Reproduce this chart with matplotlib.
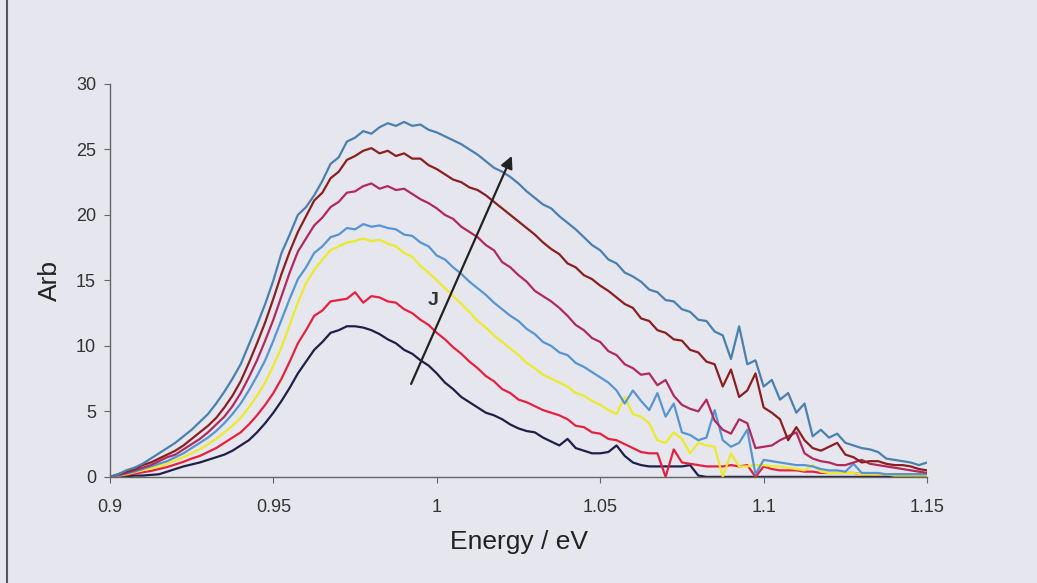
import numpy as np
import matplotlib
matplotlib.use("Agg")
import matplotlib.pyplot as plt
from matplotlib.lines import Line2D

plt.rcParams['font.family'] = ['Liberation Sans', 'DejaVu Sans']

# photon energy grid (eV), 0.9 .. 1.15 in steps of 0.0025
energy = np.linspace(0.9, 1.15, 101)

# spectra, lowest current to highest
navy = [0.0, 0.0, 0.05, 0.1, 0.1, 0.15, 0.2, 0.4, 0.6, 0.8,
        0.95, 1.1, 1.3, 1.5, 1.7, 2.0, 2.4, 2.8, 3.4, 4.1,
        4.9, 5.8, 6.8, 7.9, 8.8, 9.7, 10.3, 11.0, 11.2, 11.5,
        11.5, 11.4, 11.2, 10.9, 10.5, 10.2, 9.7, 9.4, 8.9, 8.5,
        7.9, 7.2, 6.7, 6.1, 5.7, 5.3, 4.9, 4.7, 4.4, 4.0,
        3.7, 3.5, 3.4, 3.0, 2.7, 2.4, 2.9, 2.2, 2.0, 1.8,
        1.8, 1.9, 2.4, 1.6, 1.1, 0.9, 0.8, 0.8, 0.8, 0.8,
        0.8, 0.9, 0.1, 0.0, 0.0, 0.0, 0.0, 0.0, 0.0, 0.0,
        0.0, 0.0, 0.0, 0.0, 0.0, 0.0, 0.0, 0.0, 0.0, 0.0,
        0.0, 0.0, 0.0, 0.0, 0.0, 0.0, 0.0, 0.0, 0.0, 0.0, 0.0]

red = [0.0, 0.05, 0.15, 0.25, 0.35, 0.45, 0.6, 0.75, 0.95, 1.15,
       1.4, 1.6, 1.9, 2.2, 2.6, 3.0, 3.4, 4.0, 4.7, 5.5,
       6.4, 7.5, 8.8, 10.2, 11.2, 12.3, 12.7, 13.4, 13.5, 13.6,
       14.1, 13.3, 13.8, 13.7, 13.4, 13.3, 12.8, 12.5, 12.0, 11.6,
       11.0, 10.5, 9.9, 9.4, 8.8, 8.3, 7.7, 7.3, 6.7, 6.4,
       5.9, 5.7, 5.4, 5.1, 4.9, 4.7, 4.4, 3.9, 3.8, 3.4,
       3.3, 2.9, 2.8, 2.5, 2.2, 1.9, 1.8, 1.8, 0.0, 2.1,
       1.1, 1.0, 0.9, 0.8, 0.8, 0.8, 0.9, 0.8, 0.9, 0.0,
       0.8, 0.6, 0.5, 0.5, 0.5, 0.4, 0.4, 0.3, 0.3, 0.3,
       0.3, 0.3, 0.2, 0.2, 0.2, 0.2, 0.2, 0.2, 0.2, 0.2, 0.1]

yellow = [0.0, 0.1, 0.2, 0.35, 0.5, 0.65, 0.8, 1.0, 1.25, 1.5,
          1.8, 2.1, 2.5, 2.9, 3.4, 3.9, 4.5, 5.3, 6.2, 7.2,
          8.5, 9.9, 11.6, 13.3, 14.8, 15.8, 16.6, 17.3, 17.6, 17.9,
          18.0, 18.2, 18.0, 18.1, 17.8, 17.6, 17.1, 16.8, 16.1, 15.6,
          15.0, 14.4, 13.8, 13.2, 12.6, 11.9, 11.4, 10.8, 10.3, 9.8,
          9.3, 8.7, 8.3, 7.8, 7.5, 7.2, 6.9, 6.4, 6.2, 5.8,
          5.5, 5.1, 4.8, 6.1, 4.8, 4.6, 4.1, 2.8, 2.6, 3.4,
          2.9, 1.8, 2.6, 2.4, 2.3, 0.0, 1.8, 0.8, 0.8, 0.9,
          0.9, 0.8, 0.8, 0.7, 0.6, 0.5, 0.9, 0.4, 0.3, 0.3,
          0.3, 0.3, 0.2, 0.2, 0.2, 0.2, 0.1, 0.1, 0.1, 0.1, 0.1]

lightblue = [0.0, 0.1, 0.25, 0.4, 0.6, 0.8, 1.0, 1.2, 1.5, 1.8,
             2.2, 2.6, 3.0, 3.5, 4.1, 4.8, 5.6, 6.6, 7.7, 8.9,
             10.4, 12.0, 13.6, 15.1, 16.0, 17.1, 17.6, 18.3, 18.5, 19.0,
             18.9, 19.3, 19.1, 19.2, 19.0, 18.9, 18.5, 18.4, 17.9, 17.6,
             16.9, 16.6, 16.0, 15.5, 14.9, 14.4, 13.9, 13.3, 12.8, 12.3,
             11.9, 11.3, 10.9, 10.3, 10.0, 9.5, 9.3, 8.7, 8.4, 8.0,
             7.6, 7.2, 6.6, 5.6, 6.6, 5.8, 5.1, 6.4, 4.6, 5.6,
             3.4, 3.2, 2.8, 3.0, 5.1, 2.8, 2.3, 2.6, 3.6, 0.2,
             1.3, 1.2, 1.1, 1.0, 0.9, 0.9, 0.8, 0.6, 0.5, 0.5,
             0.4, 1.0, 0.3, 0.3, 0.3, 0.2, 0.2, 0.2, 0.2, 0.2, 0.2]

magenta = [0.0, 0.15, 0.3, 0.5, 0.7, 0.9, 1.2, 1.5, 1.7, 2.1,
           2.5, 2.9, 3.4, 4.0, 4.6, 5.4, 6.4, 7.6, 8.9, 10.4,
           12.0, 13.8, 15.6, 17.2, 18.2, 19.2, 19.8, 20.6, 21.0, 21.7,
           21.8, 22.2, 22.4, 22.0, 22.2, 21.9, 22.0, 21.6, 21.2, 20.9,
           20.5, 20.0, 19.7, 19.1, 18.7, 18.3, 17.7, 17.3, 16.4, 16.0,
           15.4, 14.9, 14.2, 13.8, 13.4, 12.9, 12.3, 11.6, 11.2, 10.6,
           10.3, 9.6, 9.3, 8.6, 8.3, 7.8, 7.9, 7.0, 7.4, 6.2,
           5.5, 5.2, 5.0, 5.9, 4.3, 3.6, 3.3, 4.4, 4.1, 2.2,
           2.3, 2.4, 2.8, 3.1, 3.4, 1.8, 1.4, 1.2, 1.1, 0.9,
           0.9, 1.1, 1.3, 1.0, 0.9, 0.8, 0.7, 0.6, 0.5, 0.4, 0.3]

brown = [0.0, 0.2, 0.4, 0.6, 0.9, 1.1, 1.4, 1.7, 2.0, 2.4,
         2.9, 3.4, 3.9, 4.5, 5.3, 6.2, 7.3, 8.7, 10.2, 11.8,
         13.6, 15.5, 17.2, 18.7, 19.9, 21.1, 21.7, 22.8, 23.3, 24.2,
         24.5, 24.9, 25.1, 24.7, 24.9, 24.5, 24.7, 24.3, 24.3, 23.8,
         23.5, 23.1, 22.7, 22.5, 22.1, 21.9, 21.5, 21.0, 20.5, 20.0,
         19.5, 19.0, 18.5, 17.9, 17.4, 17.0, 16.3, 16.0, 15.4, 15.1,
         14.6, 14.2, 13.7, 13.2, 12.9, 12.1, 11.9, 11.2, 11.0, 10.5,
         10.4, 9.7, 9.5, 8.8, 8.6, 6.9, 8.2, 6.1, 6.6, 7.9,
         5.3, 4.9, 4.4, 2.8, 3.8, 2.8, 2.2, 2.0, 2.3, 2.6,
         1.7, 1.5, 1.1, 1.2, 1.2, 1.0, 0.9, 0.9, 0.8, 0.6, 0.5]

steel = [0.0, 0.2, 0.5, 0.7, 1.0, 1.4, 1.8, 2.2, 2.6, 3.1,
         3.6, 4.2, 4.8, 5.6, 6.5, 7.5, 8.6, 10.1, 11.6, 13.2,
         15.0, 17.1, 18.5, 20.0, 20.6, 21.5, 22.6, 23.9, 24.4, 25.6,
         25.9, 26.4, 26.2, 26.7, 27.0, 26.8, 27.1, 26.8, 26.9, 26.5,
         26.3, 26.0, 25.7, 25.4, 25.0, 24.6, 24.1, 23.6, 23.3, 22.9,
         22.4, 21.8, 21.3, 20.8, 20.5, 19.9, 19.4, 18.9, 18.3, 17.7,
         17.3, 16.6, 16.3, 15.6, 15.3, 14.9, 14.3, 14.1, 13.5, 13.4,
         12.8, 12.6, 12.0, 11.9, 11.1, 10.8, 9.0, 11.5, 8.6, 8.9,
         6.9, 7.4, 5.9, 6.4, 4.9, 5.6, 3.1, 3.6, 3.0, 3.3,
         2.6, 2.4, 2.2, 2.1, 1.9, 1.4, 1.3, 1.2, 1.1, 0.9, 1.1]

series = [navy, red, yellow, lightblue, magenta, brown, steel]
colors = ['#1f1f4a', '#e5213f', '#ecea2a', '#5596d2', '#b02a5e', '#8a1f1f', '#4a80ae']

# arrow showing increasing current density J
arrow_tail = (0.9918, 6.9)
arrow_head = (1.0233, 24.7)

bg = '#e6e6ee'
fig = plt.figure(figsize=(10.37, 5.83), dpi=100, facecolor=bg)
ax = fig.add_axes([0.106, 0.182, 0.788, 0.674])
ax.set_facecolor(bg)

for s, c in zip(series, colors):
    ax.plot(energy, s, color=c, lw=1.6)

ax.annotate('', xy=arrow_head, xytext=arrow_tail,
            arrowprops=dict(arrowstyle='-|>', color='#222222', lw=1.6,
                            mutation_scale=18))
ax.text(0.9989, 13.5, 'J', fontsize=14, fontweight='bold', color='#333333',
        ha='center', va='center')

ax.set_xlim(0.9, 1.15)
ax.set_ylim(0, 30)
ax.set_xticks([0.9, 0.95, 1.0, 1.05, 1.1, 1.15])
ax.set_xticklabels(['0.9', '0.95', '1', '1.05', '1.1', '1.15'])
ax.set_yticks([0, 5, 10, 15, 20, 25, 30])
for side in ['top', 'right']:
    ax.spines[side].set_visible(False)
for side in ['left', 'bottom']:
    ax.spines[side].set_color('#666666')
    ax.spines[side].set_linewidth(1.0)
ax.tick_params(axis='both', colors='#666666', labelcolor='#333333',
               labelsize=13, length=4, direction='out')
ax.tick_params(axis='x', pad=12)
ax.tick_params(axis='y', pad=6)
ax.set_xlabel('Energy / eV', fontsize=19, color='#222222', labelpad=10)
ax.set_ylabel('Arb', fontsize=19, color='#222222', labelpad=10)

# page frame line at the far left of the scan
fig.add_artist(Line2D([0.007, 0.007], [0.0, 1.0], color='#555560', lw=1.5))

fig.savefig('out.png', dpi=100, facecolor=bg)
